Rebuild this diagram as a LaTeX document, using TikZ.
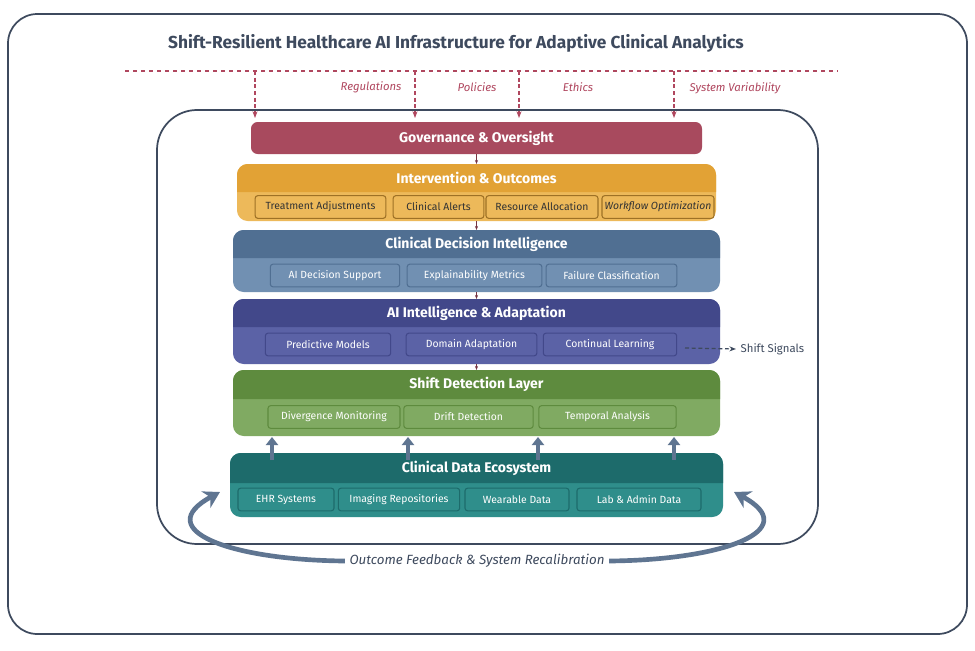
\documentclass[tikz,border=0pt]{standalone}
\usepackage{fontspec}
\setmainfont{Fira Sans}
\usetikzlibrary{arrows.meta,positioning}
\definecolor{frameC}{HTML}{3E4A5E}
\definecolor{redC}{HTML}{B0475F}
\definecolor{govC}{HTML}{A84A5E}
\definecolor{intH}{HTML}{E2A235}
\definecolor{intB}{HTML}{EDB95A}
\definecolor{cdiH}{HTML}{506F92}
\definecolor{cdiB}{HTML}{7190B2}
\definecolor{aiH}{HTML}{42488A}
\definecolor{aiB}{HTML}{5B62A6}
\definecolor{sdH}{HTML}{5E8B3E}
\definecolor{sdB}{HTML}{80AA62}
\definecolor{ceH}{HTML}{1D6B6B}
\definecolor{ceB}{HTML}{2F8E8B}
\definecolor{fbC}{HTML}{5F7591}

\newcommand{\drawlayer}[9]{
  \fill[#8, rounded corners=8pt] (#2,#3) rectangle (#4,#5);
  \fill[#7] (#2,#6) [rounded corners=8pt] -- (#2,#3) -- (#4,#3) [sharp corners] -- (#4,#6) -- cycle;
  \node[layertitle] (#1) at ({(#2+#4)/2},{(#3+#6)/2}) {#9};
  \coordinate (#1-t) at ({(#2+#4)/2},#3);
  \coordinate (#1-b) at ({(#2+#4)/2},#5);
}

\begin{document}
\begin{tikzpicture}[x=0.75pt, y=-0.75pt,
    layertitle/.style = {text=white, font=\bfseries\fontsize{10.5}{12}\selectfont},
    sub/.style = {draw=#1, line width=0.8pt, rounded corners=2pt, minimum height=17pt, inner sep=1pt, font=\fontsize{7.8}{9}\selectfont},
    press/.style = {label text/.style={}, text=redC, font=\itshape\fontsize{8.5}{10}\selectfont},
    smallarr/.style = {-{Stealth[length=3pt]}, govC!70!black, thin},
    uparr/.style = {-{Triangle[length=6pt, width=9pt]}, fbC, line width=2.6pt},
    fbarr/.style = {-{Stealth[length=12pt, width=14pt]}, fbC, line width=3.5pt}]
    \useasboundingbox (0,0) rectangle (975,650);
    \fill[white] (0,0) rectangle (975,650);
    % frames
    \draw[frameC, line width=1.3pt, rounded corners=22pt] (8,14) rectangle (967,634);
    \node[text=frameC, font=\bfseries\fontsize{13}{15}\selectfont] (title) at (456,43) {Shift-Resilient Healthcare AI Infrastructure for Adaptive Clinical Analytics};
    \draw[frameC, line width=1.3pt, rounded corners=30pt] (157,110) rectangle (818,544);

    % external pressures
    \coordinate (dl) at (125,71);
    \coordinate (dr) at (838,71);
    \draw[redC, dashed, line width=0.9pt] (dl) -- (dr);
    \foreach \x in {255,415,519,674}
        \draw[redC, densely dashed, line width=0.9pt, -{Stealth[length=5pt]}] (\x,71) -- (\x,118);
    \node[press] (reg) at (371,87) {Regulations};
    \node[press] (pol) at (477,87) {Policies};
    \node[press] (eth) at (578,87) {Ethics};
    \node[press] (var) at (735,88) {System Variability};

    % governance
    \fill[govC, rounded corners=5pt] (251,122) rectangle (702,154);
    \node[layertitle] (gov) at (476.5,138) {Governance \& Oversight};
    \coordinate (gov-b) at (476.5,154);

    % layers
    \drawlayer{int}{237}{164}{716}{221}{192}{intH}{intB}{Intervention \& Outcomes}
    \drawlayer{cdi}{233}{230}{720}{292}{258}{cdiH}{cdiB}{Clinical Decision Intelligence}
    \drawlayer{ai}{233}{299}{720}{364}{327}{aiH}{aiB}{AI Intelligence \& Adaptation}
    \drawlayer{sd}{233}{370}{720}{436}{399}{sdH}{sdB}{Shift Detection Layer}
    \drawlayer{ce}{230}{453}{723}{517}{483}{ceH}{ceB}{Clinical Data Ecosystem}

    % sub boxes
    \node[sub=intH!70!black, fill=intB, text=black!80, minimum width=98pt] (treat) at (320.5,207) {Treatment Adjustments};
    \node[sub=intH!70!black, fill=intB, text=black!80, minimum width=68pt] (alert) at (438.5,207) {Clinical Alerts};
    \node[sub=intH!70!black, fill=intB, text=black!80, minimum width=84pt] (res) at (542,207) {Resource Allocation};
    \node[sub=intH!70!black, fill=intB, text=black!80, minimum width=84pt] (flow) at (658,207) {\itshape Workflow Optimization};

    \node[sub=cdiH, fill=cdiB, text=white, minimum width=97pt] (dss) at (335,275.5) {AI Decision Support};
    \node[sub=cdiH, fill=cdiB, text=white, minimum width=101pt] (expl) at (474.5,275.5) {Explainability Metrics};
    \node[sub=cdiH, fill=cdiB, text=white, minimum width=98pt] (fail) at (611.5,275.5) {Failure Classification};

    \node[sub=aiH, fill=aiB, text=white, minimum width=94pt] (pred) at (328,344.5) {Predictive Models};
    \node[sub=aiH, fill=aiB, text=white, minimum width=98pt] (dom) at (471.5,344.5) {Domain Adaptation};
    \node[sub=aiH, fill=aiB, text=white, minimum width=100pt] (cont) at (610,344.5) {Continual Learning};

    \node[sub=sdH, fill=sdB, text=white, minimum width=99pt] (div) at (334,417) {Divergence Monitoring};
    \node[sub=sdH, fill=sdB, text=white, minimum width=97pt] (drift) at (468.5,417) {Drift Detection};
    \node[sub=sdH, fill=sdB, text=white, minimum width=103pt] (temp) at (607.5,417) {Temporal Analysis};

    \node[sub=ceH, fill=ceB, text=white, minimum width=72pt] (ehr) at (286,499.5) {EHR Systems};
    \node[sub=ceH, fill=ceB, text=white, minimum width=91pt] (img) at (399,499.5) {Imaging Repositories};
    \node[sub=ceH, fill=ceB, text=white, minimum width=78pt] (wear) at (517,499.5) {Wearable Data};
    \node[sub=ceH, fill=ceB, text=white, minimum width=93pt] (lab) at (639,499.5) {Lab \& Admin Data};

    % flow between layers
    \draw[smallarr] (gov-b) -- (int-t);
    \draw[smallarr] (int-b) -- (cdi-t);
    \draw[smallarr] (cdi-b) -- (ai-t);
    \draw[smallarr] (ai-b) -- (sd-t);
    \foreach \x in {272,408,538,674}
        \draw[uparr] (\x,460) -- (\x,437);

    % shift signals
    \node[text=frameC, font=\fontsize{8.5}{10}\selectfont, anchor=west] (sig) at (736,349) {Shift Signals};
    \coordinate (sigst) at (685,348);
    \draw[frameC, densely dashed, line width=0.9pt, -{Stealth[length=5pt]}] (sigst) -- (sig.west);

    % feedback loop
    \node[text=frameC, font=\itshape\fontsize{10}{12}\selectfont] (fb) at (477,561) {Outcome Feedback \& System Recalibration};
    \coordinate (fbl) at (220,492);
    \coordinate (fbr) at (734,492);
    \draw[fbarr] (fb.west) .. controls (230,560) and (150,530) .. (fbl);
    \draw[fbarr] (fb.east) .. controls (724,560) and (804,530) .. (fbr);
\end{tikzpicture}
\end{document}
